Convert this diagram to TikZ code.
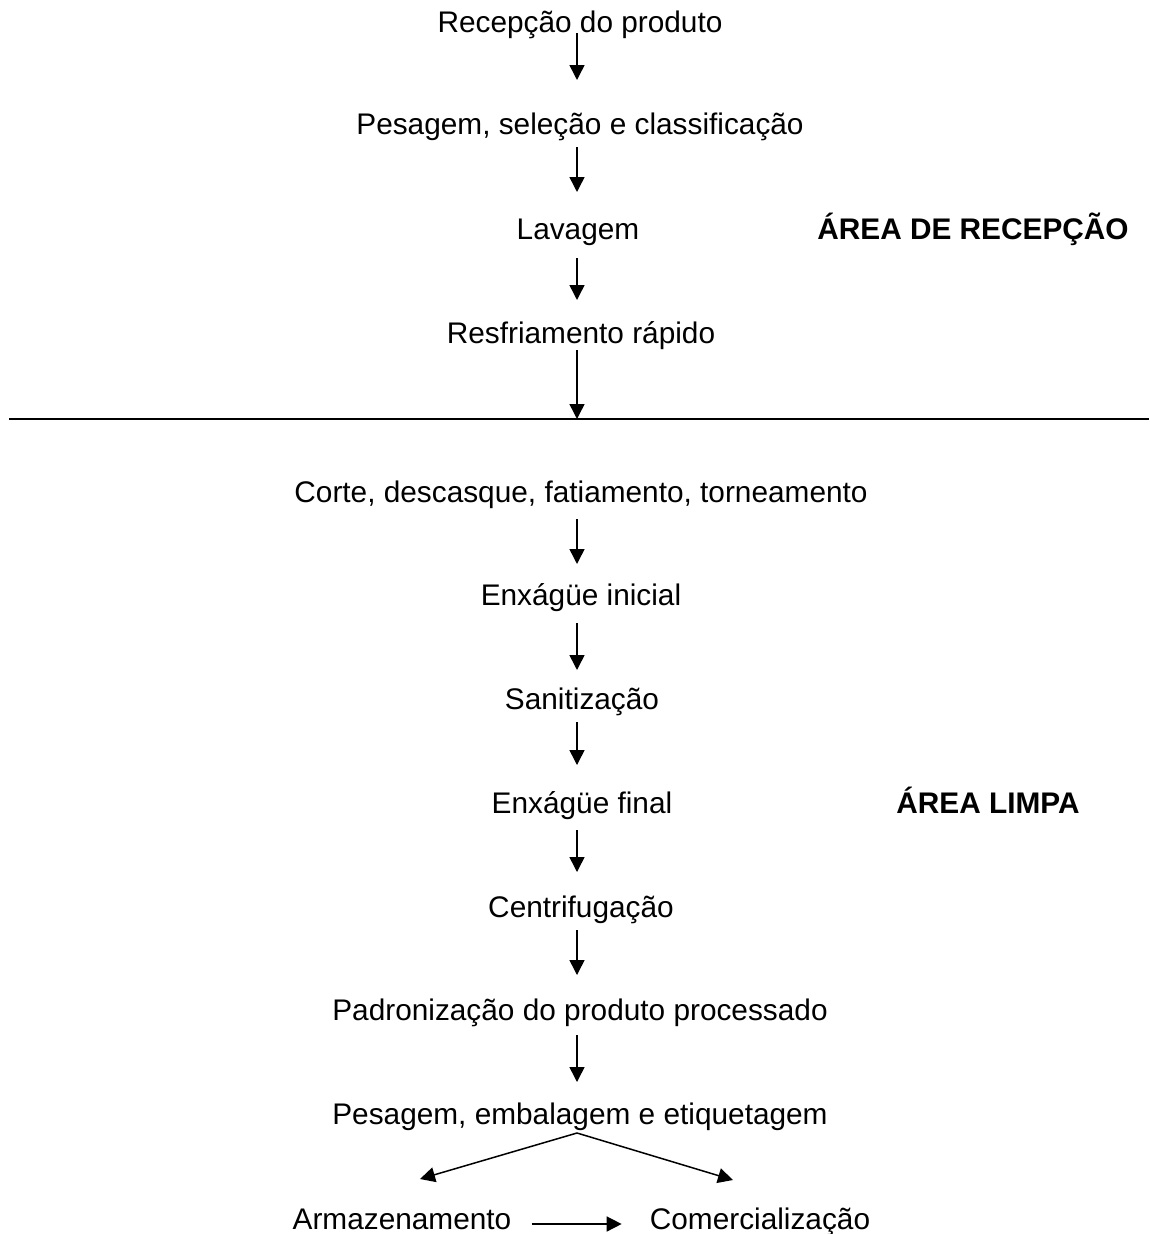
\documentclass[tikz,border=0pt]{standalone}
\usepackage{fontspec}
\setmainfont{Liberation Sans}
\usetikzlibrary{arrows.meta}
\begin{document}
\begin{tikzpicture}[x=1pt,y=-1pt,
  lbl/.style={anchor=base,inner sep=0pt,font=\fontsize{29.8}{36}\selectfont},
  area/.style={anchor=base,inner sep=0pt,font=\fontsize{29.8}{36}\selectfont\bfseries},
  arr/.style={line width=1.5pt,-{Triangle[length=15pt,width=15pt]}}]
\useasboundingbox (0,0) rectangle (1149,1234);
\node[lbl] (n1) at (580,32) {Recepção do produto};
\node[lbl] (n2) at (580,134) {Pesagem, seleção e classificação};
\node[lbl] (n3) at (578,239) {Lavagem};
\node[lbl] (n4) at (581,343) {Resfriamento rápido};
\node[lbl] (n5) at (581,502) {Corte, descasque, fatiamento, torneamento};
\node[lbl] (n6) at (581,605) {Enxágüe inicial};
\node[lbl] (n7) at (582,709) {Sanitização};
\node[lbl] (n8) at (582,813) {Enxágüe final};
\node[lbl] (n9) at (581,917) {Centrifugação};
\node[lbl] (n10) at (580,1020) {Padronização do produto processado};
\node[lbl] (n11) at (580,1124) {Pesagem, embalagem e etiquetagem};
\node[lbl] (arm) at (402,1229) {Armazenamento};
\node[lbl] (com) at (760,1229) {Comercialização};
\node[area] (r1) at (973,239) {ÁREA DE RECEPÇÃO};
\node[area] (r2) at (988,813) {ÁREA LIMPA};
\coordinate (sep) at (577,419);
\coordinate (apex) at (577,1133);
\draw[line width=1.4pt] (9,419) -- (1149,419);
\draw[arr,shorten <=1pt,shorten >=54pt] ([xshift=-3pt]n1.base) -- ([xshift=-3pt]n2.base);
\draw[arr,shorten <=13pt,shorten >=47pt] ([xshift=-3pt]n2.base) -- ([xshift=-1pt]n3.base);
\draw[arr,shorten <=19pt,shorten >=43pt] ([xshift=-1pt]n3.base) -- ([xshift=-4pt]n4.base);
\draw[arr,shorten <=7pt] ([xshift=-4pt]n4.base) -- (sep);
\draw[arr,shorten <=17pt,shorten >=41pt] ([xshift=-4pt]n5.base) -- ([xshift=-4pt]n6.base);
\draw[arr,shorten <=18pt,shorten >=39pt] ([xshift=-4pt]n6.base) -- ([xshift=-5pt]n7.base);
\draw[arr,shorten <=13pt,shorten >=48pt] ([xshift=-5pt]n7.base) -- ([xshift=-5pt]n8.base);
\draw[arr,shorten <=17pt,shorten >=45pt] ([xshift=-5pt]n8.base) -- ([xshift=-4pt]n9.base);
\draw[arr,shorten <=13pt,shorten >=45pt] ([xshift=-4pt]n9.base) -- ([xshift=-3pt]n10.base);
\draw[arr,shorten <=15pt,shorten >=42pt] ([xshift=-3pt]n10.base) -- ([xshift=-3pt]n11.base);
\draw[arr] (apex) -- ([xshift=18pt,yshift=50pt]arm.base);
\draw[arr] (apex) -- ([xshift=-27pt,yshift=49pt]com.base);
\draw[arr] ([xshift=20pt,yshift=5pt]arm.base east) -- ([xshift=-28pt,yshift=5pt]com.base west);
\end{tikzpicture}
\end{document}
